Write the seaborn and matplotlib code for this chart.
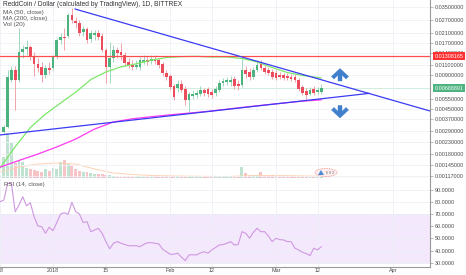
import matplotlib
matplotlib.use("Agg")
import numpy as np
import pandas as pd
import matplotlib.pyplot as plt
import matplotlib.transforms as mtransforms
from matplotlib.patches import Polygon, Ellipse
import seaborn as sns

sns.set_style("white")
plt.rcParams['font.family'] = ['Liberation Sans', 'DejaVu Sans']

# ---------------- data ----------------
candle_start = "2017-12-19"
opens = [0.00283, 0.00313, 0.00808, 0.00989, 0.00808, 0.01422, 0.01511, 0.01573, 0.01312, 0.01116,
         0.01050, 0.00894, 0.01029, 0.01029, 0.01285, 0.01812, 0.01925, 0.01964, 0.03003, 0.02660,
         0.02554, 0.02130, 0.02263, 0.01849, 0.02005, 0.02087, 0.01964, 0.01481, 0.01050, 0.01260,
         0.01481, 0.01422, 0.01338, 0.01162, 0.01094, 0.01050, 0.01050, 0.01162, 0.01210, 0.01186,
         0.01234, 0.01210, 0.01116, 0.00930, 0.00876, 0.00716, 0.00687, 0.00745, 0.00674, 0.00539,
         0.00585, 0.00597, 0.00609, 0.00660, 0.00674, 0.00634, 0.00621, 0.00660, 0.00760, 0.00776,
         0.00776, 0.00824, 0.00745, 0.00730, 0.00989, 0.00949, 0.00858, 0.00989, 0.01116, 0.01029,
         0.00989, 0.00949, 0.00930, 0.00894, 0.00894, 0.00876, 0.00858, 0.00858, 0.00808, 0.00701,
         0.00647, 0.00609, 0.00674, 0.00634, 0.00634]
closes = [0.00313, 0.00858, 0.00989, 0.00808, 0.01422, 0.01511, 0.01573, 0.01312, 0.01116, 0.01029,
          0.00894, 0.01029, 0.00989, 0.01285, 0.01812, 0.01925, 0.01887, 0.03003, 0.02714, 0.02554,
          0.02087, 0.02263, 0.01812, 0.02087, 0.02087, 0.01925, 0.01481, 0.01050, 0.01260, 0.01481,
          0.01393, 0.01338, 0.01139, 0.01094, 0.01050, 0.01094, 0.01210, 0.01210, 0.01162, 0.01234,
          0.01186, 0.01094, 0.00930, 0.00858, 0.00701, 0.00573, 0.00745, 0.00660, 0.00539, 0.00609,
          0.00609, 0.00621, 0.00660, 0.00621, 0.00609, 0.00597, 0.00674, 0.00760, 0.00792, 0.00808,
          0.00808, 0.00716, 0.00716, 0.00989, 0.00912, 0.00858, 0.00989, 0.01094, 0.01029, 0.00949,
          0.00930, 0.00858, 0.00841, 0.00858, 0.00841, 0.00841, 0.00824, 0.00808, 0.00674, 0.00621,
          0.00597, 0.00660, 0.00621, 0.00660, 0.00687]
highs = [0.00326, 0.00989, 0.01072, 0.01072, 0.02309, 0.01638, 0.01812, 0.01638, 0.01422, 0.01260,
         0.01162, 0.01094, 0.01162, 0.01338, 0.01887, 0.02087, 0.02309, 0.03126, 0.03458, 0.02884,
         0.02714, 0.02404, 0.02356, 0.02218, 0.02218, 0.02218, 0.02087, 0.01542, 0.01740, 0.01638,
         0.01573, 0.01706, 0.01422, 0.01260, 0.01210, 0.01210, 0.01285, 0.01338, 0.01312, 0.01338,
         0.01338, 0.01260, 0.01162, 0.00989, 0.00912, 0.00745, 0.00808, 0.00808, 0.00716, 0.00634,
         0.00660, 0.00660, 0.00716, 0.00687, 0.00701, 0.00674, 0.00716, 0.00808, 0.00841, 0.00858,
         0.00876, 0.00876, 0.00808, 0.01260, 0.01072, 0.01029, 0.01050, 0.01210, 0.01210, 0.01094,
         0.01050, 0.01009, 0.00989, 0.00949, 0.00930, 0.00930, 0.00912, 0.00912, 0.00841, 0.00730,
         0.00687, 0.00701, 0.00716, 0.00701, 0.00745]
lows = [0.00277, 0.00307, 0.00776, 0.00441, 0.00776, 0.01260, 0.01338, 0.01210, 0.00876, 0.00949,
        0.00776, 0.00841, 0.00912, 0.00989, 0.01234, 0.01671, 0.01481, 0.01887, 0.02554, 0.02309,
        0.01964, 0.01964, 0.01706, 0.01740, 0.01812, 0.01812, 0.01422, 0.00760, 0.00760, 0.01162,
        0.01260, 0.01210, 0.01072, 0.01029, 0.00989, 0.01009, 0.00989, 0.01116, 0.01094, 0.01116,
        0.01116, 0.01029, 0.00876, 0.00808, 0.00660, 0.00539, 0.00634, 0.00634, 0.00487, 0.00423,
        0.00550, 0.00562, 0.00585, 0.00585, 0.00573, 0.00562, 0.00585, 0.00634, 0.00716, 0.00730,
        0.00716, 0.00674, 0.00660, 0.00701, 0.00841, 0.00808, 0.00824, 0.00949, 0.00989, 0.00912,
        0.00894, 0.00824, 0.00808, 0.00824, 0.00808, 0.00808, 0.00792, 0.00776, 0.00647, 0.00597,
        0.00539, 0.00597, 0.00597, 0.00609, 0.00609]
volumes_m = [21, 45, 35, 15, 18, 16, 10, 9, 8, 7,
             6, 9, 7, 10, 9, 16, 18, 14, 12, 9,
             7, 6, 6, 5, 4, 4, 4, 3, 3, 2,
             1.5, 1.5, 1.5, 1.2, 1, 1, 1.2, 1, 1, 1,
             1, 1, 1.2, 1.5, 1.5, 2, 1.5, 1, 1.5, 2,
             1.2, 1, 1.2, 1, 1, 1, 1, 1.2, 1, 1,
             1, 1.5, 1, 11, 5, 3, 3, 3, 6, 2,
             2, 3, 2, 1.5, 1.5, 1, 1, 1, 1.5, 1.5,
             1.2, 1, 1, 1, 1]

vol_ma_dates = ["2017-12-18", "2017-12-23", "2017-12-28", "2018-01-02", "2018-01-07", "2018-01-12",
                "2018-01-17", "2018-01-22", "2018-01-27", "2018-02-06", "2018-02-16", "2018-02-21",
                "2018-02-26", "2018-03-03", "2018-03-13"]
vol_ma_values = [6, 11, 14, 15, 14, 9, 5, 3.5, 2.5, 1.8, 1.5, 2.2, 2.5, 2.4, 1.8]

ma50_dates = ["2017-12-18", "2017-12-22", "2017-12-26", "2017-12-30", "2018-01-03", "2018-01-07",
              "2018-01-11", "2018-01-15", "2018-01-19", "2018-01-23", "2018-01-27", "2018-01-31",
              "2018-02-04", "2018-02-08", "2018-02-12", "2018-02-16", "2018-02-20", "2018-02-24",
              "2018-02-28", "2018-03-04", "2018-03-08", "2018-03-13"]
ma50_values = [0.00137, 0.00210, 0.00309, 0.00405, 0.00507, 0.00631, 0.00815, 0.00950, 0.01054,
               0.01120, 0.01205, 0.01271, 0.01296, 0.01304, 0.01286, 0.01286, 0.01247, 0.01162,
               0.01039, 0.00940, 0.00885, 0.00842]

ma200_dates = ["2017-12-18", "2017-12-23", "2017-12-28", "2018-01-02", "2018-01-07", "2018-01-12",
               "2018-01-17", "2018-01-22", "2018-01-27", "2018-02-01", "2018-02-06", "2018-02-11",
               "2018-02-16", "2018-02-21", "2018-02-26", "2018-03-03", "2018-03-08", "2018-03-13"]
ma200_values = [0.00139, 0.00159, 0.00181, 0.00209, 0.00245, 0.00300, 0.00346, 0.00369, 0.00385,
                0.00400, 0.00414, 0.00429, 0.00448, 0.00468, 0.00488, 0.00507, 0.00527, 0.00541]

rsi_start = "2017-12-18"
rsi_values = [80.4, 81.8, 95.6, 95.6, 72.1, 77.7, 84.5, 76.9, 79.6, 68.0,
              60.3, 59.8, 54.3, 59.3, 56.4, 63.1, 70.2, 71.3, 70.0, 79.9,
              72.1, 70.2, 63.1, 63.9, 55.6, 57.0, 58.4, 54.3, 47.4, 41.5,
              46.0, 47.4, 46.0, 45.0, 44.0, 44.0, 44.0, 43.2, 45.0, 46.5,
              46.5, 46.0, 45.5, 41.1, 39.0, 36.9, 37.0, 37.8, 34.5, 31.7,
              36.4, 36.5, 36.4, 38.0, 39.1, 37.8, 40.5, 42.5, 44.6, 45.0,
              46.0, 47.4, 44.6, 45.0, 55.6, 54.3, 50.2, 55.0, 58.4, 55.6,
              55.6, 52.0, 47.4, 50.2, 49.0, 48.8, 47.4, 47.4, 42.0, 40.5,
              38.6, 37.5, 35.8, 41.9, 40.5, 43.2]

upper_trend_dates = ["2018-01-06 19:40", "2018-04-10 18:00"]
upper_trend_prices = [0.03389, 0.00432]
lower_trend_dates = ["2017-12-17 23:30", "2018-03-25 17:30"]
lower_trend_prices = [0.00266, 0.00617]
resistance_level = 0.01308165
last_price_label = "0.00688891"

price_ticks = [0.035, 0.027, 0.021, 0.017, 0.014, 0.011, 0.009, 0.0055, 0.0045, 0.0037,
               0.0029, 0.0023, 0.0018, 0.00145, 0.00117]
rsi_ticks = [30, 40, 50, 60, 70, 80, 90]
x_tick_dates = ["2017-12-18", "2018-01-01", "2018-01-15", "2018-02-01", "2018-02-12",
                "2018-03-01", "2018-03-12", "2018-04-01"]
x_tick_labels = ["18", "2018", "15", "Feb", "12", "Mar", "12", "Apr"]

title_text = "ReddCoin / Dollar (calculated by TradingView), 1D, BITTREX"
legend_lines = ["MA (50, close)", "MA (200, close)", "Vol (20)"]
rsi_label = "RSI (14, close)"

# ---------------- figure ----------------
W, H = 466, 275
fig = plt.figure(figsize=(W / 100, H / 100), dpi=100)
fig.patch.set_facecolor("white")
rect_main = [0, 1 - 178 / H, 430 / W, 178 / H]
rect_rsi = [0, 1 - 267 / H, 430 / W, 89 / H]

ax_vol = fig.add_axes(rect_main)
ax = fig.add_axes(rect_main, sharex=ax_vol)
ax.patch.set_alpha(0)
ax_rsi = fig.add_axes(rect_rsi, sharex=ax_vol)

candle_dates = pd.date_range(candle_start, periods=len(opens), freq="D")
df = pd.DataFrame({"date": candle_dates, "open": opens, "high": highs, "low": lows,
                   "close": closes, "volume": volumes_m})
up = df["close"] >= df["open"]

GRID = "#eef0f6"
AXC = "#9a9a9a"
TXT = "#4a4a4a"
FS = 3.9

# volume (behind)
vol_colors = np.where(up, "#bfe3d0", "#f6c3c6")
ax_vol.bar(df["date"], df["volume"], width=0.78, color=vol_colors, linewidth=0)
sns.lineplot(x=pd.to_datetime(vol_ma_dates), y=vol_ma_values, ax=ax_vol,
             color="#ffd2b5", lw=0.7)
ax_vol.set_ylim(0, 178)
ax_vol.axis("off")

# main price panel
ax.set_yscale("log")
ax.set_ylim(0.001116, 0.04065)
xmin, xmax = pd.Timestamp("2017-12-17 23:30"), pd.Timestamp("2018-04-10 18:00")
ax.set_xlim(xmin, xmax)

ax.axhline(closes[-1], color="#c9ecd8", lw=0.6, zorder=0.5)

wick_colors = np.where(up, "#9fd8bb", "#f3a3aa")
body_colors = np.where(up, "#4cb37f", "#ec4d5c")
ax.vlines(df["date"], df["low"], df["high"], colors=wick_colors, lw=0.7, zorder=1)
body_bottom = np.minimum(df["open"], df["close"])
body_height = np.abs(df["close"] - df["open"])
ax.bar(df["date"], body_height, bottom=body_bottom, width=0.72, color=body_colors,
       linewidth=0, zorder=1.5)

sns.lineplot(x=pd.to_datetime(ma50_dates), y=ma50_values, ax=ax, color="#7de86a", lw=0.9)
sns.lineplot(x=pd.to_datetime(ma200_dates), y=ma200_values, ax=ax, color="#ff3af0", lw=0.9)
ax.axhline(resistance_level, color="#ff4d4d", lw=0.9)
sns.lineplot(x=pd.to_datetime(upper_trend_dates), y=upper_trend_prices, ax=ax,
             color="#3b3bf2", lw=0.9)
sns.lineplot(x=pd.to_datetime(lower_trend_dates), y=lower_trend_prices, ax=ax,
             color="#3b3bf2", lw=0.9)

ax.set_yticks(price_ticks)
ax.set_yticklabels([f"{v:.8f}" for v in price_ticks])
ax.yaxis.set_minor_locator(matplotlib.ticker.NullLocator())
ax.yaxis.tick_right()
ax.tick_params(axis="y", length=2, width=0.5, color=AXC, labelsize=FS,
               labelcolor=TXT, pad=1.2)
ax.set_xticks(pd.to_datetime(x_tick_dates))
ax.tick_params(axis="x", length=0, labelbottom=False)
ax.grid(True, color=GRID, lw=0.6)
ax.set_axisbelow(True)
ax.set_xlabel("")
ax.set_ylabel("")
for s in ["top", "left"]:
    ax.spines[s].set_visible(False)
for s in ["right", "bottom"]:
    ax.spines[s].set_color(AXC)
    ax.spines[s].set_linewidth(0.8)

# price labels on the scale
trans = mtransforms.blended_transform_factory(ax.transAxes, ax.transData)
ax.annotate(f"{resistance_level:.8f}", xy=(1.0, resistance_level), xycoords=trans,
            xytext=(3.2, 0), textcoords="offset points", ha="left", va="center",
            fontsize=FS, color="white", annotation_clip=False,
            bbox=dict(boxstyle="square,pad=0.3", fc="#ff3030", ec="none"))
ax.annotate(last_price_label, xy=(1.0, closes[-1]), xycoords=trans,
            xytext=(3.2, 0), textcoords="offset points", ha="left", va="center",
            fontsize=FS, color="white", annotation_clip=False,
            bbox=dict(boxstyle="square,pad=0.3", fc="#4db380", ec="none"))

# RSI panel
rsi_dates = pd.date_range(rsi_start, periods=len(rsi_values), freq="D")
ax_rsi.axhspan(30, 70, color="#f4e8fd", lw=0, zorder=0)
ax_rsi.axhline(70, color="#cdbfe0", lw=0.5, ls=(0, (2, 2)), zorder=0.5)
ax_rsi.axhline(30, color="#cdbfe0", lw=0.5, ls=(0, (2, 2)), zorder=0.5)
sns.lineplot(x=rsi_dates, y=rsi_values, ax=ax_rsi, color="#cf98e0", lw=0.8)
ax_rsi.set_ylim(26.4, 100)
ax_rsi.set_xlim(xmin, xmax)
ax_rsi.set_yticks(rsi_ticks)
ax_rsi.set_yticklabels([f"{v:.4f}" for v in rsi_ticks])
ax_rsi.yaxis.tick_right()
ax_rsi.tick_params(axis="y", length=2, width=0.5, color=AXC, labelsize=FS,
                   labelcolor=TXT, pad=1.2)
ax_rsi.set_xticks(pd.to_datetime(x_tick_dates))
ax_rsi.set_xticklabels(x_tick_labels)
ax_rsi.tick_params(axis="x", length=0, width=0.5, color=AXC, labelsize=FS,
                   labelcolor=TXT, pad=0.6)
ax_rsi.grid(True, color=GRID, lw=0.6)
ax_rsi.set_axisbelow(True)
ax_rsi.set_xlabel("")
ax_rsi.set_ylabel("")
for s in ["top", "left"]:
    ax_rsi.spines[s].set_visible(False)
for s in ["right", "bottom"]:
    ax_rsi.spines[s].set_color(AXC)
    ax_rsi.spines[s].set_linewidth(0.8)

# texts
def fx(px):
    return px / W

def fy(py):
    return 1 - py / H

fig.text(fx(3), fy(5), title_text, fontsize=4.8, color="#333333", va="center", ha="left")
for i, t in enumerate(legend_lines):
    fig.text(fx(3), fy(12.3 + 6 * i), t, fontsize=4.6, color="#555555", va="center", ha="left")
fig.text(fx(4), fy(184.5), rsi_label, fontsize=4.4, color="#555555", va="center", ha="left")

# direction arrows
up_arrow = [(340, 68.5), (348.5, 76.5), (346, 79), (342, 75), (342, 81), (338, 81),
            (338, 75), (334, 79), (331.5, 76.5)]
down_arrow = [(340, 118), (348.5, 110), (346, 107.5), (342, 111.5), (342, 105.5), (338, 105.5),
              (338, 111.5), (334, 107.5), (331.5, 110)]
for shape in (up_arrow, down_arrow):
    fig.add_artist(Polygon([(fx(x), fy(y)) for x, y in shape], closed=True,
                           transform=fig.transFigure, fc="#3f7fcc", ec="#3f7fcc", lw=0.3))

# event badge near volume
fig.add_artist(Ellipse((fx(326), fy(172.5)), 22 / W, 8 / H, transform=fig.transFigure,
                       fc="#fdeef0", ec="#f08a8a", lw=0.5, ls=(0, (1.5, 1))))
fig.add_artist(Polygon([(fx(318), fy(175)), (fx(321), fy(170)), (fx(324), fy(175))],
                       closed=True, transform=fig.transFigure, fc="#4a8ad4", ec="none"))
fig.text(fx(330), fy(172.5), "6 9 3", fontsize=2.6, color="#666666", va="center", ha="center")

fig.savefig("out.png", dpi=100, facecolor="white")
